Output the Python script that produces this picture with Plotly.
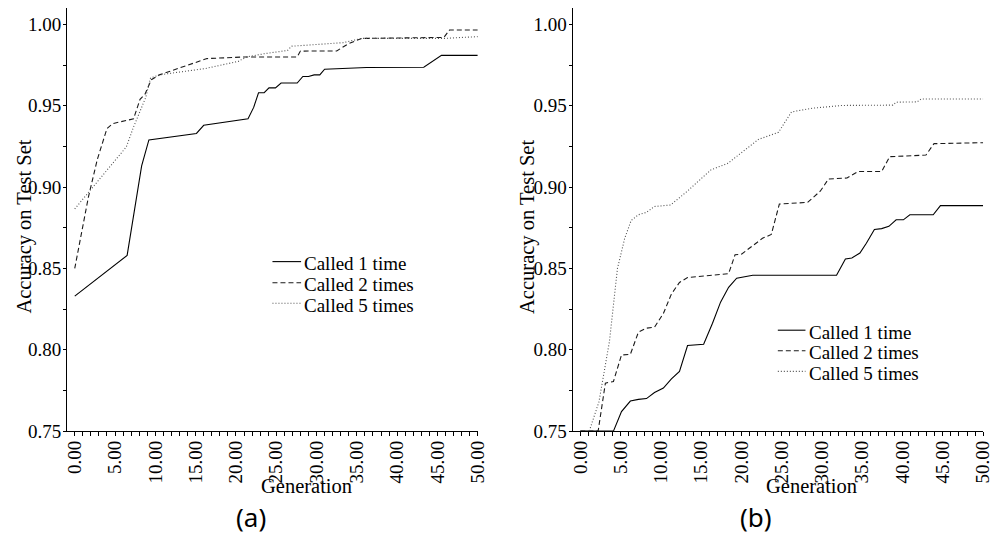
import plotly.graph_objects as go

# ---- data: accuracy on the test set per generation ----
series_names = ["Called 1 time", "Called 2 times", "Called 5 times"]

# panel (a)
gen_a1 = [0, 6.5, 8.3, 9.2, 15.1, 16.0, 21.5, 22.2, 22.8, 23.5, 24.1, 24.9, 25.6,
          27.6, 28.3, 29.0, 29.7, 30.4, 31.0, 36.2, 43.3, 45.5, 50]
acc_a1 = [0.833, 0.858, 0.913, 0.929, 0.933, 0.938, 0.942, 0.949, 0.958, 0.958, 0.961,
          0.961, 0.964, 0.964, 0.968, 0.968, 0.969, 0.969, 0.9725, 0.9735, 0.9737, 0.981, 0.981]

gen_a2 = [0, 1.7, 2.8, 4.0, 4.7, 7.3, 8.1, 8.7, 9.5, 10.5, 16.4, 21.0, 27.6, 28.0,
          32.5, 33.9, 35.6, 45.8, 46.5, 50]
acc_a2 = [0.850, 0.894, 0.917, 0.936, 0.939, 0.942, 0.954, 0.957, 0.966, 0.969, 0.979,
          0.980, 0.980, 0.9836, 0.9837, 0.988, 0.9914, 0.992, 0.9966, 0.9966]

gen_a5 = [0, 1.7, 6.4, 7.3, 8.2, 8.8, 9.4, 10.5, 16.2, 20.3, 21.3, 23.5, 26.4, 26.9,
          33.3, 35.6, 45.8, 50]
acc_a5 = [0.8866, 0.8966, 0.9247, 0.937, 0.948, 0.955, 0.967, 0.969, 0.9729, 0.9773,
          0.980, 0.982, 0.984, 0.9866, 0.9888, 0.9914, 0.9914, 0.9925]

# panel (b)
gen_b1 = [0, 4.1, 5.1, 6.2, 7.2, 8.2, 9.2, 10.3, 11.3, 12.3, 13.3, 15.3, 16.4, 17.4,
          18.4, 19.4, 21.4, 31.8, 32.9, 33.7, 34.7, 35.5, 36.5, 37.4, 38.3, 39.2, 40.1,
          40.9, 43.8, 44.7, 50]
acc_b1 = [0.75, 0.75, 0.762, 0.7685, 0.7695, 0.770, 0.7737, 0.7765, 0.7821, 0.7867,
          0.8026, 0.8034, 0.8163, 0.8293, 0.8384, 0.844, 0.8458, 0.8458, 0.8558, 0.8564,
          0.8595, 0.8655, 0.874, 0.8745, 0.8759, 0.8799, 0.8799, 0.883, 0.883, 0.8886, 0.8886]

gen_b2 = [0, 2.2, 3.1, 4.1, 5.1, 6.2, 7.2, 8.2, 9.2, 10.3, 11.3, 12.3, 13.3, 16.4,
          18.4, 19.2, 20.0, 21.4, 22.6, 23.7, 24.7, 28.2, 29.8, 30.8, 33.1, 34.5, 37.4,
          38.4, 42.9, 43.9, 50]
acc_b2 = [0.75, 0.75, 0.7795, 0.7805, 0.7968, 0.7972, 0.8108, 0.8133, 0.8139, 0.8223,
          0.8343, 0.8414, 0.8444, 0.8458, 0.8468, 0.8584, 0.8588, 0.864, 0.8685, 0.8709,
          0.8896, 0.8906, 0.8976, 0.905, 0.9056, 0.9096, 0.9096, 0.9187, 0.9197, 0.9267, 0.9273]

gen_b5 = [0, 1.1, 2.3, 3.6, 4.6, 5.5, 6.3, 7.2, 8.2, 9.2, 11.2, 13.3, 16.2, 18.3,
          22.1, 24.6, 26.2, 28.8, 32.5, 38.8, 39.2, 41.8, 42.3, 50]
acc_b5 = [0.75, 0.75, 0.768, 0.805, 0.850, 0.8685, 0.8795, 0.883, 0.8845, 0.8881,
          0.889, 0.8976, 0.9106, 0.9146, 0.9293, 0.9337, 0.9462, 0.9485, 0.9502, 0.9504,
          0.9522, 0.9524, 0.9542, 0.9542]

x_ticks = [0, 5, 10, 15, 20, 25, 30, 35, 40, 45, 50]
y_ticks = [0.75, 0.80, 0.85, 0.90, 0.95, 1.00]
panel_labels = ["(a)", "(b)"]

# ---- figure geometry (pixels) ----
W, H = 1003, 545
SERIF = "Liberation Serif"


def fx(p):
    return p / W


def fy(p):
    return 1 - p / H


line_styles = [
    dict(color="black", width=1.1, dash="solid"),
    dict(color="#1a1a1a", width=1.1, dash="5px,3px"),
    dict(color="#505050", width=1.1, dash="1px,2px"),
]

panels = [
    dict(x0=65, x1=481, xmin=-0.94, ytitle_x=22, xtitle_x=307, label_x=251,
         leg_x0=273, leg_x1=302, leg_tx=303, leg_y=[267, 288.5, 309.5],
         series=[(gen_a1, acc_a1), (gen_a2, acc_a2), (gen_a5, acc_a5)]),
    dict(x0=577, x1=993, xmin=-0.98, ytitle_x=532, xtitle_x=819, label_x=763,
         leg_x0=785, leg_x1=813, leg_tx=815, leg_y=[337, 358, 379],
         series=[(gen_b1, acc_b1), (gen_b2, acc_b2), (gen_b5, acc_b5)]),
]

PLOT_TOP, PLOT_BOTTOM = 8, 440

fig = go.Figure()
annotations = []
shapes = []
layout_axes = {}

for k, p in enumerate(panels):
    suffix = "" if k == 0 else str(k + 1)
    xa, ya = "x" + suffix, "y" + suffix
    for (g, a), name, st in zip(p["series"], series_names, line_styles):
        fig.add_trace(go.Scatter(x=g, y=a, mode="lines", name=name, line=st,
                                 xaxis=xa, yaxis=ya, showlegend=False,
                                 hoverinfo="skip"))

    layout_axes["xaxis" + suffix] = dict(
        domain=[fx(p["x0"]), fx(p["x1"])], range=[p["xmin"], 50], anchor=ya,
        showline=True, linecolor="black", linewidth=1, showgrid=False, zeroline=False,
        ticks="outside", ticklen=4, tickcolor="black", tickwidth=1,
        tickvals=x_ticks, ticktext=[f"{v:.2f}" for v in x_ticks], tickangle=-90,
        ticklabelstandoff=-3,
        tickfont=dict(family=SERIF, size=19, color="black"),
        minor=dict(dtick=1, tick0=0, ticks="outside", ticklen=4, tickcolor="black",
                   tickwidth=1, showgrid=False),
    )
    layout_axes["yaxis" + suffix] = dict(
        domain=[fy(PLOT_BOTTOM), fy(PLOT_TOP)], range=[0.75, 1.0102], anchor=xa,
        showline=True, linecolor="black", linewidth=1, showgrid=False, zeroline=False,
        ticks="outside", ticklen=3, tickcolor="black", tickwidth=1,
        tickvals=y_ticks, ticktext=[f"{v:.2f}" for v in y_ticks],
        ticklabelstandoff=-2,
        tickfont=dict(family=SERIF, size=19, color="black"),
        minor=dict(dtick=0.025, tick0=0.75, ticks="outside", ticklen=3,
                   tickcolor="black", tickwidth=1, showgrid=False),
    )

    # axis titles
    annotations.append(dict(text="Accuracy on Test Set", xref="paper", yref="paper",
                            x=fx(p["ytitle_x"]), y=fy(231.5), textangle=-90,
                            showarrow=False, xanchor="center", yanchor="middle",
                            font=dict(family=SERIF, size=20.5, color="black")))
    annotations.append(dict(text="Generation", xref="paper", yref="paper",
                            x=fx(p["xtitle_x"]), y=fy(496), showarrow=False,
                            xanchor="center", yanchor="middle",
                            font=dict(family=SERIF, size=20.5, color="black")))
    annotations.append(dict(text=panel_labels[k], xref="paper", yref="paper",
                            x=fx(p["label_x"]), y=fy(528), showarrow=False,
                            xanchor="center", yanchor="middle",
                            font=dict(family="Noto Sans", size=26, color="black")))

    # legend block
    for name, st, ly in zip(series_names, line_styles, p["leg_y"]):
        shapes.append(dict(type="line", xref="paper", yref="paper",
                           x0=fx(p["leg_x0"]), x1=fx(p["leg_x1"]), y0=fy(ly), y1=fy(ly),
                           line=dict(color=st["color"], width=st["width"], dash=st["dash"])))
        annotations.append(dict(text=name, xref="paper", yref="paper",
                                x=fx(p["leg_tx"]), y=fy(ly + 2), showarrow=False,
                                xanchor="left", yanchor="middle",
                                font=dict(family=SERIF, size=19, color="black")))

fig.update_layout(
    width=W, height=H, margin=dict(l=0, r=0, t=0, b=0),
    paper_bgcolor="white", plot_bgcolor="white",
    annotations=annotations, shapes=shapes, showlegend=False,
    **layout_axes,
)

fig.write_html("out.html")
